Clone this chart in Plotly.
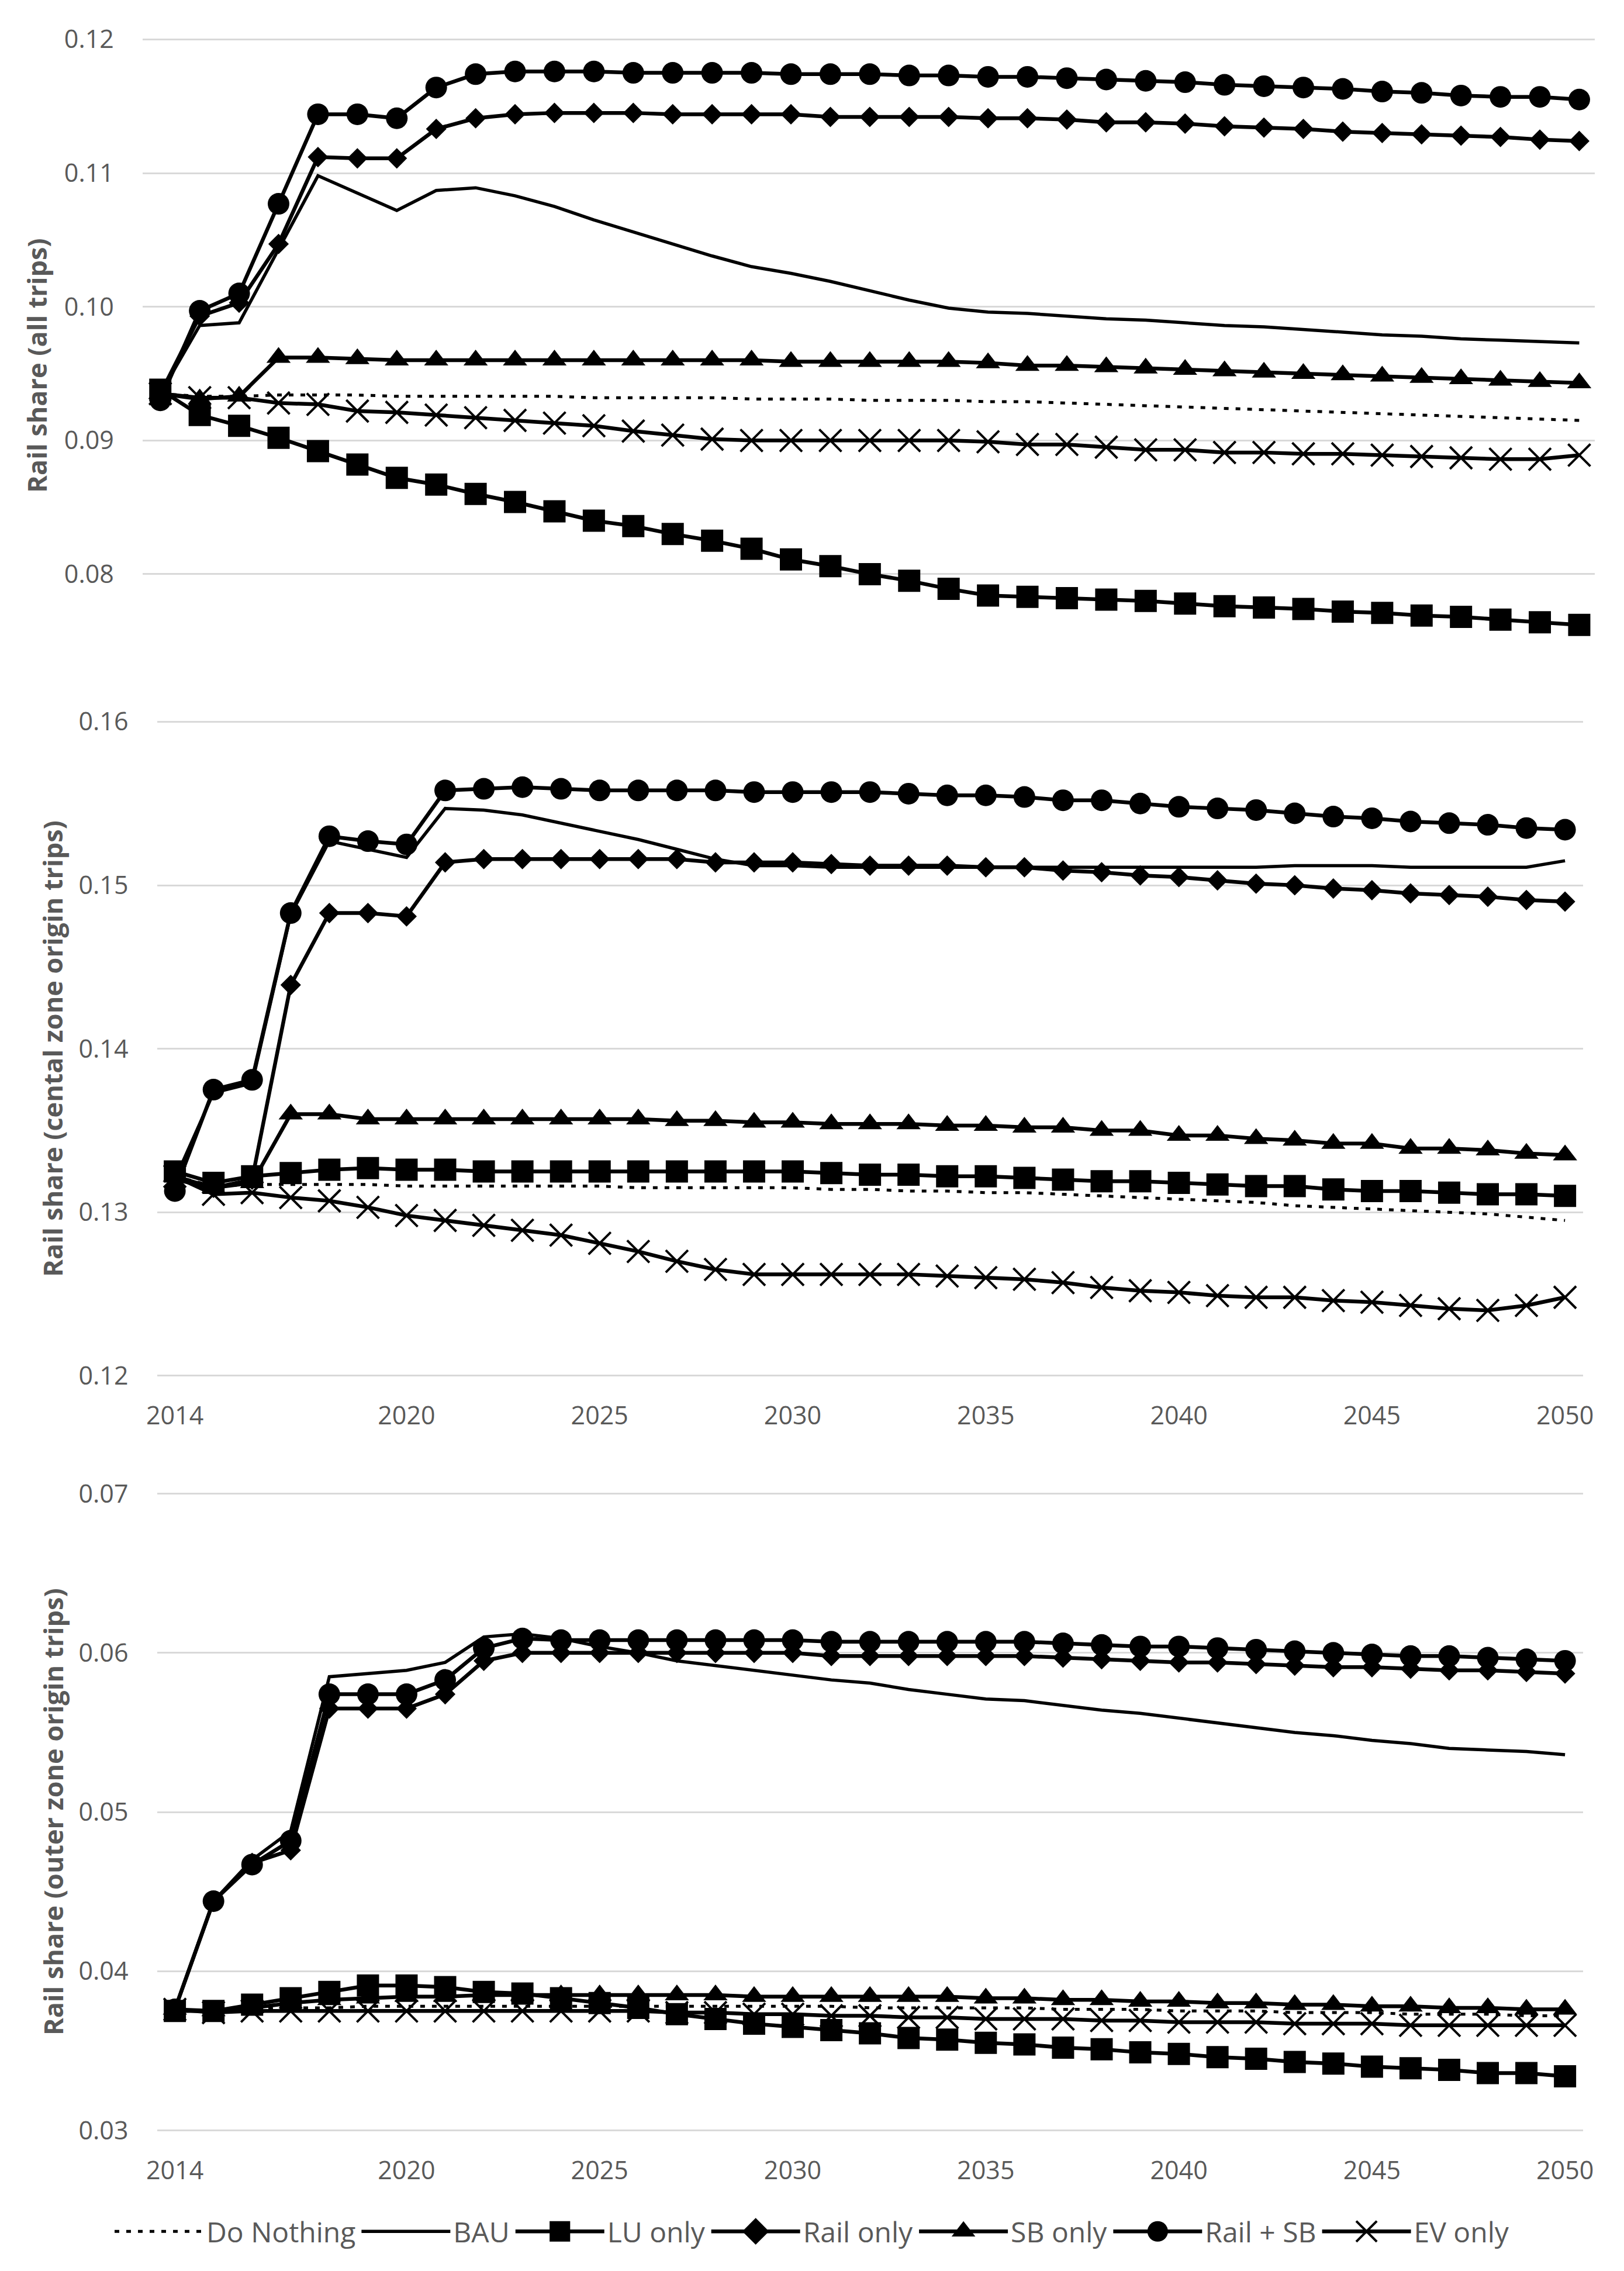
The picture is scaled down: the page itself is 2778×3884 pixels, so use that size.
import plotly.graph_objects as go

# ---------------- data ----------------
years = list(range(2014, 2051))
x_tick_vals = [2014, 2020, 2025, 2030, 2035, 2040, 2045, 2050]
x_tick_text = ["2014", "2020", "2025", "2030", "2035", "2040", "2045", "2050"]

series_names = ["Do Nothing", "BAU", "LU only", "Rail only", "SB only", "Rail + SB", "EV only"]

# Panel 1: Rail share (all trips)
p1_do_nothing = [0.0935, 0.0933, 0.0933, 0.0934, 0.0934, 0.0934, 0.0933, 0.0933, 0.0933, 0.0933, 0.0933, 0.0932, 0.0932, 0.0932, 0.0932, 0.0931, 0.0931, 0.0931, 0.0930, 0.0930, 0.0930, 0.0929, 0.0929, 0.0928, 0.0927, 0.0926, 0.0925, 0.0924, 0.0923, 0.0922, 0.0921, 0.0920, 0.0919, 0.0918, 0.0917, 0.0916, 0.0915]
p1_bau = [0.0935, 0.0986, 0.0988, 0.1043, 0.1098, 0.1085, 0.1072, 0.1087, 0.1089, 0.1083, 0.1075, 0.1065, 0.1056, 0.1047, 0.1038, 0.1030, 0.1025, 0.1019, 0.1012, 0.1005, 0.0999, 0.0996, 0.0995, 0.0993, 0.0991, 0.0990, 0.0988, 0.0986, 0.0985, 0.0983, 0.0981, 0.0979, 0.0978, 0.0976, 0.0975, 0.0974, 0.0973]
p1_lu = [0.0938, 0.0919, 0.0911, 0.0902, 0.0892, 0.0882, 0.0872, 0.0867, 0.0860, 0.0854, 0.0847, 0.0840, 0.0836, 0.0830, 0.0825, 0.0819, 0.0811, 0.0806, 0.0800, 0.0795, 0.0789, 0.0784, 0.0783, 0.0782, 0.0781, 0.0780, 0.0778, 0.0776, 0.0775, 0.0774, 0.0772, 0.0771, 0.0769, 0.0768, 0.0766, 0.0764, 0.0762]
p1_rail = [0.0935, 0.0993, 0.1003, 0.1047, 0.1112, 0.1111, 0.1111, 0.1133, 0.1141, 0.1144, 0.1145, 0.1145, 0.1145, 0.1144, 0.1144, 0.1144, 0.1144, 0.1142, 0.1142, 0.1142, 0.1142, 0.1141, 0.1141, 0.1140, 0.1138, 0.1138, 0.1137, 0.1135, 0.1134, 0.1133, 0.1131, 0.1130, 0.1129, 0.1128, 0.1127, 0.1125, 0.1124]
p1_sb = [0.0935, 0.0931, 0.0933, 0.0962, 0.0962, 0.0961, 0.0960, 0.0960, 0.0960, 0.0960, 0.0960, 0.0960, 0.0960, 0.0960, 0.0960, 0.0960, 0.0959, 0.0959, 0.0959, 0.0959, 0.0959, 0.0958, 0.0956, 0.0956, 0.0955, 0.0954, 0.0953, 0.0952, 0.0951, 0.0950, 0.0949, 0.0948, 0.0947, 0.0946, 0.0945, 0.0944, 0.0943]
p1_railsb = [0.0930, 0.0997, 0.1010, 0.1077, 0.1144, 0.1144, 0.1141, 0.1164, 0.1174, 0.1176, 0.1176, 0.1176, 0.1175, 0.1175, 0.1175, 0.1175, 0.1174, 0.1174, 0.1174, 0.1173, 0.1173, 0.1172, 0.1172, 0.1171, 0.1170, 0.1169, 0.1168, 0.1166, 0.1165, 0.1164, 0.1163, 0.1161, 0.1160, 0.1158, 0.1157, 0.1157, 0.1155]
p1_ev = [0.0935, 0.0932, 0.0932, 0.0928, 0.0927, 0.0922, 0.0921, 0.0919, 0.0917, 0.0915, 0.0913, 0.0911, 0.0907, 0.0904, 0.0901, 0.0900, 0.0900, 0.0900, 0.0900, 0.0900, 0.0900, 0.0899, 0.0897, 0.0897, 0.0895, 0.0893, 0.0893, 0.0891, 0.0891, 0.0890, 0.0890, 0.0889, 0.0888, 0.0887, 0.0886, 0.0886, 0.0889]

# Panel 2: Rail share (central zone origin trips)
p2_do_nothing = [0.1322, 0.1316, 0.1317, 0.1317, 0.1317, 0.1317, 0.1316, 0.1316, 0.1316, 0.1316, 0.1316, 0.1316, 0.1315, 0.1315, 0.1315, 0.1315, 0.1315, 0.1314, 0.1314, 0.1313, 0.1313, 0.1312, 0.1312, 0.1311, 0.1310, 0.1309, 0.1308, 0.1307, 0.1306, 0.1304, 0.1303, 0.1302, 0.1301, 0.1300, 0.1299, 0.1297, 0.1295]
p2_bau = [0.1320, 0.1373, 0.1379, 0.1482, 0.1527, 0.1522, 0.1517, 0.1547, 0.1546, 0.1543, 0.1538, 0.1533, 0.1528, 0.1522, 0.1516, 0.1512, 0.1512, 0.1511, 0.1511, 0.1511, 0.1511, 0.1511, 0.1511, 0.1511, 0.1511, 0.1511, 0.1511, 0.1511, 0.1511, 0.1512, 0.1512, 0.1512, 0.1511, 0.1511, 0.1511, 0.1511, 0.1515]
p2_lu = [0.1325, 0.1318, 0.1322, 0.1324, 0.1326, 0.1327, 0.1326, 0.1326, 0.1325, 0.1325, 0.1325, 0.1325, 0.1325, 0.1325, 0.1325, 0.1325, 0.1325, 0.1324, 0.1323, 0.1323, 0.1322, 0.1322, 0.1321, 0.1320, 0.1319, 0.1319, 0.1318, 0.1317, 0.1316, 0.1316, 0.1314, 0.1313, 0.1313, 0.1312, 0.1311, 0.1311, 0.1310]
p2_rail = [0.1320, 0.1315, 0.1320, 0.1439, 0.1483, 0.1483, 0.1481, 0.1514, 0.1516, 0.1516, 0.1516, 0.1516, 0.1516, 0.1516, 0.1514, 0.1514, 0.1514, 0.1513, 0.1512, 0.1512, 0.1512, 0.1511, 0.1511, 0.1509, 0.1508, 0.1506, 0.1505, 0.1503, 0.1501, 0.1500, 0.1498, 0.1497, 0.1495, 0.1494, 0.1493, 0.1491, 0.1490]
p2_sb = [0.1322, 0.1315, 0.1318, 0.1360, 0.1360, 0.1357, 0.1357, 0.1357, 0.1357, 0.1357, 0.1357, 0.1357, 0.1357, 0.1356, 0.1356, 0.1355, 0.1355, 0.1354, 0.1354, 0.1354, 0.1353, 0.1353, 0.1352, 0.1352, 0.1350, 0.1350, 0.1347, 0.1347, 0.1345, 0.1344, 0.1342, 0.1342, 0.1339, 0.1339, 0.1338, 0.1336, 0.1335]
p2_railsb = [0.1313, 0.1375, 0.1381, 0.1483, 0.1530, 0.1527, 0.1525, 0.1558, 0.1559, 0.1560, 0.1559, 0.1558, 0.1558, 0.1558, 0.1558, 0.1557, 0.1557, 0.1557, 0.1557, 0.1556, 0.1555, 0.1555, 0.1554, 0.1552, 0.1552, 0.1550, 0.1548, 0.1547, 0.1546, 0.1544, 0.1542, 0.1541, 0.1539, 0.1538, 0.1537, 0.1535, 0.1534]
p2_ev = [0.1322, 0.1311, 0.1312, 0.1309, 0.1307, 0.1303, 0.1298, 0.1295, 0.1292, 0.1289, 0.1286, 0.1281, 0.1276, 0.1270, 0.1265, 0.1262, 0.1262, 0.1262, 0.1262, 0.1262, 0.1261, 0.1260, 0.1259, 0.1257, 0.1254, 0.1252, 0.1251, 0.1249, 0.1248, 0.1248, 0.1246, 0.1245, 0.1243, 0.1241, 0.1240, 0.1243, 0.1248]

# Panel 3: Rail share (outer zone origin trips)
p3_do_nothing = [0.0376, 0.0375, 0.0376, 0.0377, 0.0377, 0.0378, 0.0378, 0.0378, 0.0378, 0.0378, 0.0378, 0.0378, 0.0378, 0.0378, 0.0378, 0.0378, 0.0378, 0.0378, 0.0377, 0.0377, 0.0377, 0.0377, 0.0377, 0.0376, 0.0376, 0.0376, 0.0375, 0.0375, 0.0375, 0.0374, 0.0374, 0.0374, 0.0373, 0.0373, 0.0373, 0.0372, 0.0372]
p3_bau = [0.0376, 0.0444, 0.0470, 0.0488, 0.0585, 0.0587, 0.0589, 0.0594, 0.0610, 0.0612, 0.0609, 0.0604, 0.0600, 0.0595, 0.0592, 0.0589, 0.0586, 0.0583, 0.0581, 0.0577, 0.0574, 0.0571, 0.0570, 0.0567, 0.0564, 0.0562, 0.0559, 0.0556, 0.0553, 0.0550, 0.0548, 0.0545, 0.0543, 0.0540, 0.0539, 0.0538, 0.0536]
p3_lu = [0.0375, 0.0375, 0.0379, 0.0383, 0.0387, 0.0391, 0.0391, 0.0390, 0.0387, 0.0386, 0.0383, 0.0380, 0.0377, 0.0373, 0.0370, 0.0367, 0.0365, 0.0363, 0.0361, 0.0358, 0.0357, 0.0355, 0.0354, 0.0352, 0.0351, 0.0349, 0.0348, 0.0346, 0.0345, 0.0343, 0.0342, 0.0340, 0.0339, 0.0338, 0.0336, 0.0336, 0.0334]
p3_rail = [0.0376, 0.0444, 0.0468, 0.0476, 0.0565, 0.0565, 0.0565, 0.0574, 0.0595, 0.0600, 0.0600, 0.0600, 0.0600, 0.0600, 0.0600, 0.0600, 0.0600, 0.0598, 0.0598, 0.0598, 0.0598, 0.0598, 0.0598, 0.0597, 0.0596, 0.0595, 0.0594, 0.0594, 0.0593, 0.0592, 0.0591, 0.0591, 0.0590, 0.0589, 0.0589, 0.0588, 0.0587]
p3_sb = [0.0376, 0.0375, 0.0377, 0.0380, 0.0382, 0.0383, 0.0384, 0.0384, 0.0385, 0.0385, 0.0385, 0.0385, 0.0385, 0.0385, 0.0385, 0.0384, 0.0384, 0.0384, 0.0384, 0.0384, 0.0384, 0.0383, 0.0383, 0.0382, 0.0382, 0.0381, 0.0381, 0.0380, 0.0380, 0.0379, 0.0379, 0.0378, 0.0378, 0.0377, 0.0377, 0.0376, 0.0376]
p3_railsb = [0.0376, 0.0444, 0.0467, 0.0482, 0.0574, 0.0574, 0.0574, 0.0583, 0.0603, 0.0609, 0.0608, 0.0608, 0.0608, 0.0608, 0.0608, 0.0608, 0.0608, 0.0607, 0.0607, 0.0607, 0.0607, 0.0607, 0.0607, 0.0606, 0.0605, 0.0604, 0.0604, 0.0603, 0.0602, 0.0601, 0.0600, 0.0599, 0.0598, 0.0598, 0.0597, 0.0596, 0.0595]
p3_ev = [0.0376, 0.0374, 0.0375, 0.0375, 0.0375, 0.0375, 0.0375, 0.0375, 0.0375, 0.0375, 0.0375, 0.0375, 0.0375, 0.0374, 0.0374, 0.0373, 0.0373, 0.0372, 0.0372, 0.0371, 0.0371, 0.0370, 0.0370, 0.0370, 0.0369, 0.0369, 0.0368, 0.0368, 0.0368, 0.0367, 0.0367, 0.0367, 0.0366, 0.0366, 0.0366, 0.0366, 0.0366]

panel_titles = ["Rail share (all trips)",
                "Rail share (cental zone origin trips)",
                "Rail share (outer zone origin trips)"]
p1_ticks = [0.08, 0.09, 0.10, 0.11, 0.12]
p2_ticks = [0.12, 0.13, 0.14, 0.15, 0.16]
p3_ticks = [0.03, 0.04, 0.05, 0.06, 0.07]

panels = [
    [p1_do_nothing, p1_bau, p1_lu, p1_rail, p1_sb, p1_railsb, p1_ev],
    [p2_do_nothing, p2_bau, p2_lu, p2_rail, p2_sb, p2_railsb, p2_ev],
    [p3_do_nothing, p3_bau, p3_lu, p3_rail, p3_sb, p3_railsb, p3_ev],
]
for pnl in panels:
    for s in pnl:
        assert len(s) == len(years)

# ---------------- styling ----------------
W, H = 2778, 3884
FONT = "Open Sans"
TICK_COLOR = "#595959"
GRID = "#d9d9d9"
LW = 6.5

styles = [
    dict(mode="lines", line=dict(color="black", width=5, dash="8px,12px")),
    dict(mode="lines", line=dict(color="black", width=5.5)),
    dict(mode="lines+markers", line=dict(color="black", width=LW),
         marker=dict(symbol="square", size=38, color="black")),
    dict(mode="lines+markers", line=dict(color="black", width=LW),
         marker=dict(symbol="diamond", size=27, color="black")),
    dict(mode="lines+markers", line=dict(color="black", width=LW),
         marker=dict(symbol="triangle-up", size=36, color="black")),
    dict(mode="lines+markers", line=dict(color="black", width=LW),
         marker=dict(symbol="circle", size=37, color="black")),
    dict(mode="lines+markers", line=dict(color="black", width=LW),
         marker=dict(symbol="x-thin", size=38, color="black",
                     line=dict(color="black", width=4))),
]

# panel geometry in pixels: (x_left, x_right, y_top, y_bottom, xrange, yrange)
geo = [
    (228, 2747, 31, 1187, [2013.55, 2050.4], [0.0706, 0.1206]),
    (253, 2726, 1216.5, 2364.5, [2013.537, 2050.463], [0.1197, 0.1603]),
    (253, 2726, 2551.7, 3669.3, [2013.537, 2050.463], [0.0297, 0.0703]),
]
tick_sets = [p1_ticks, p2_ticks, p3_ticks]
title_x_px = [44, 72, 72]

fig = go.Figure()
layout = dict(
    width=W, height=H, autosize=False,
    margin=dict(l=0, r=0, t=0, b=0),
    paper_bgcolor="white", plot_bgcolor="white",
    font=dict(family=FONT, size=43, color=TICK_COLOR),
    showlegend=True,
    legend=dict(orientation="h", x=0.5, xanchor="center",
                y=1 - 3836 / H, yanchor="middle",
                font=dict(family=FONT, size=48, color=TICK_COLOR),
                itemwidth=152, tracegroupgap=0, bgcolor="rgba(0,0,0,0)"),
)
annotations = []
for i, (pnl, g) in enumerate(zip(panels, geo)):
    xl, xr, yt, yb, xr_, yr_ = g
    ax = "" if i == 0 else str(i + 1)
    for j, (name, vals) in enumerate(zip(series_names, pnl)):
        fig.add_trace(go.Scatter(
            x=years, y=vals, name=name, legendgroup=name,
            showlegend=(i == 2), xaxis="x" + ax, yaxis="y" + ax,
            **styles[j]))
    layout["xaxis" + ax] = dict(
        domain=[xl / W, xr / W], range=xr_, anchor="y" + ax,
        showgrid=False, zeroline=False, showline=False,
        tickvals=x_tick_vals, ticktext=x_tick_text,
        showticklabels=(i != 0), ticks="",
        tickfont=dict(family=FONT, size=43, color=TICK_COLOR),
        ticklabelstandoff=31,
    )
    layout["yaxis" + ax] = dict(
        domain=[1 - yb / H, 1 - yt / H], range=yr_, anchor="x" + ax,
        showgrid=True, gridcolor=GRID, gridwidth=3,
        zeroline=False, showline=False, ticks="",
        tickvals=tick_sets[i], tickformat=".2f",
        tickfont=dict(family=FONT, size=43, color=TICK_COLOR),
        ticklabelstandoff=48,
    )
    annotations.append(dict(
        text=panel_titles[i], textangle=-90, showarrow=False,
        xref="paper", yref="paper",
        x=title_x_px[i] / W, y=1 - (yt + yb) / 2 / H,
        xanchor="center", yanchor="middle",
        font=dict(family=FONT, size=45, color=TICK_COLOR, weight="bold"),
    ))
layout["annotations"] = annotations
fig.update_layout(**layout)

# page fits the window exactly (no default body margin / scrollbars);
# enlarge legend marker glyphs (plotly caps them at 16px) to match the reference key
post_script = """
document.body.style.margin = '0px';
document.documentElement.style.overflow = 'hidden';
var gd = document.getElementById('{plot_id}');
function enlargeLegendMarkers(){
  gd.querySelectorAll('g.legend g.legendpoints path.scatterpts').forEach(function(p){
    var t = p.getAttribute('transform') || '';
    if (t.indexOf('scale') < 0) { p.setAttribute('transform', t + ' scale(2.2)'); }
    p.style.vectorEffect = 'non-scaling-stroke';
  });
}
enlargeLegendMarkers();
gd.on('plotly_afterplot', enlargeLegendMarkers);
"""

fig.write_html("out.html", post_script=post_script,
               config={"displayModeBar": False, "staticPlot": False})
